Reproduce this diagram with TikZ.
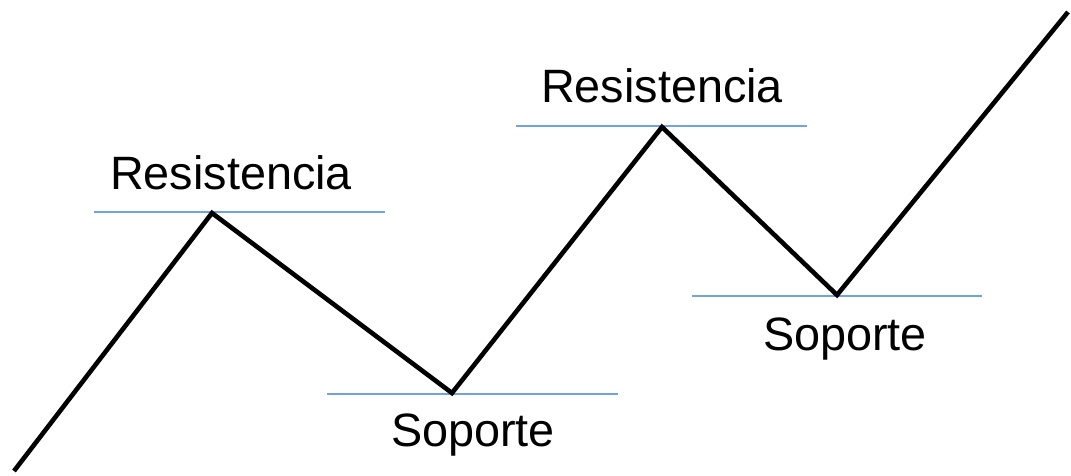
\documentclass[tikz,border=0pt]{standalone}
\usepackage{fontspec}
\setmainfont{Liberation Sans}
\definecolor{levelblue}{RGB}{110,165,220}
\begin{document}
\begin{tikzpicture}[x=1pt,y=-1pt,
  price/.style={line width=4.6pt,black},
  level/.style={line width=1.3pt,levelblue},
  lbl/.style={anchor=base,inner sep=0pt,font=\fontsize{46.8}{50}\selectfont}]
\useasboundingbox (0,0) rectangle (1071,475);
\coordinate (p0) at (14,471);
\coordinate (p1) at (212,213);
\coordinate (p2) at (452,393);
\coordinate (p3) at (662,127);
\coordinate (p4) at (837,295);
\coordinate (p5) at (1068,12);
\coordinate (r1a) at (94,212);  \coordinate (r1b) at (385,212);
\coordinate (s1a) at (327,394); \coordinate (s1b) at (618,394);
\coordinate (r2a) at (516,126); \coordinate (r2b) at (807,126);
\coordinate (s2a) at (692,296); \coordinate (s2b) at (982,296);
\draw[level] (r1a) -- (r1b);
\draw[level] (s1a) -- (s1b);
\draw[level] (r2a) -- (r2b);
\draw[level] (s2a) -- (s2b);
\draw[price] (p0) -- (p1) -- (p2) -- (p3) -- (p4) -- (p5);
\node[lbl] (t1) at (231,189) {Resistencia};
\node[lbl] (t2) at (473,446) {Soporte};
\node[lbl] (t3) at (662,102) {Resistencia};
\node[lbl] (t4) at (845,350) {Soporte};
\end{tikzpicture}
\end{document}
